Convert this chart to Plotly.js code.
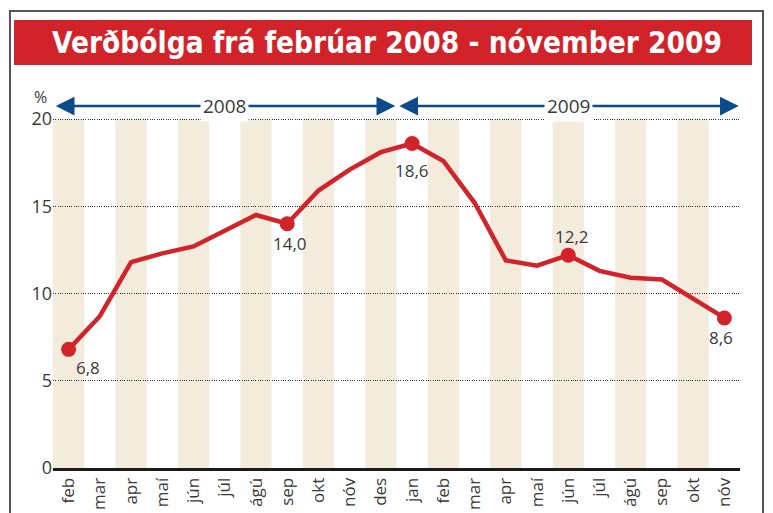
<!DOCTYPE html>
<html><head><meta charset="utf-8">
<script src="https://cdn.plot.ly/plotly-3.0.1.min.js"></script>
<style>html,body{margin:0;padding:0;background:#fff}</style>
</head><body><div id="chart" style="width:773px;height:513px"></div>
<script>
// ---- data ----
const months = ['feb','mar','apr','maí','jún','júl','ágú','sep','okt','nóv','des',
                'jan','feb','mar','apr','maí','jún','júl','ágú','sep','okt','nóv'];
const years = [2008,2008,2008,2008,2008,2008,2008,2008,2008,2008,2008,
               2009,2009,2009,2009,2009,2009,2009,2009,2009,2009,2009];
const inflation = [6.8,8.7,11.8,12.3,12.7,13.6,14.5,14.0,15.9,17.1,18.1,
                   18.6,17.6,15.2,11.9,11.6,12.2,11.3,10.9,10.8,9.7,8.6];
const highlighted = [0,7,11,16,21];
const yTicks = [0,5,10,15,20];
const titleText = 'Verðbólga frá febrúar 2008 - nóvember 2009';

// ---- layout helpers ----
const W = 773, H = 513;
const M = {l:53, r:33, t:118, b:45};
const pw = W - M.l - M.r, ph = H - M.t - M.b;
const px2x = p => (p - M.l) / pw;
const py2y = p => (H - M.b - p) / ph;

const xIdx = months.map((_, i) => i);
const FONT = 'Open Sans, Noto Sans, sans-serif';
const TXT = '#3a3a3a';
const RED = '#d2232a';
const BLUE = '#0b4a8b';
const yMax = yTicks[yTicks.length - 1];

const shapes = [];
// outer frame
shapes.push({type:'rect', xref:'paper', yref:'paper', x0:px2x(10), x1:px2x(763), y0:py2y(530), y1:py2y(11),
  line:{color:'#555', width:2}, fillcolor:'rgba(0,0,0,0)', layer:'below'});
// title banner
shapes.push({type:'rect', xref:'paper', yref:'paper', x0:px2x(14), x1:px2x(752), y0:py2y(65), y1:py2y(20),
  line:{width:0}, fillcolor:RED, layer:'above'});
// alternating stripes
xIdx.forEach(i => {
  if (i % 2 === 0) shapes.push({type:'rect', xref:'x', yref:'y', x0:i-0.5, x1:i+0.5,
    y0:yTicks[0], y1:yMax, line:{width:0}, fillcolor:'#f3ecdd', layer:'below'});
});

const annotations = [];
// year arrows
const yearList = [...new Set(years)];
const arrowY = py2y(106);
yearList.forEach(yr => {
  const first = years.indexOf(yr), last = years.lastIndexOf(yr);
  const a = first - 0.5 + 0.04, b = last + 0.5 - 0.04;
  annotations.push({x:b, y:arrowY, xref:'x', yref:'paper', ax:a, ay:0, axref:'x', ayref:'pixel',
    text:'', showarrow:true, arrowside:'end+start', arrowhead:2, arrowsize:1.5, arrowwidth:2.5,
    arrowcolor:BLUE, standoff:0, startstandoff:0});
});
yearList.forEach(yr => {
  const first = years.indexOf(yr), last = years.lastIndexOf(yr);
  annotations.push({x:(first + last) / 2, y:arrowY, xref:'x', yref:'paper', text:String(yr),
    showarrow:false, bgcolor:'#fff', borderpad:2, xanchor:'center', yanchor:'middle',
    font:{family:FONT, size:19, color:TXT}});
});
// % label
annotations.push({x:px2x(40), y:py2y(97), xref:'paper', yref:'paper', text:'%', showarrow:false,
  xanchor:'center', yanchor:'middle', font:{family:FONT, size:16, color:TXT}});
// value labels
const labelShift = {0:[19,-18], 7:[3,-20], 11:[0,-27], 16:[4,19], 21:[-3,-20]};
highlighted.forEach(i => {
  annotations.push({x:i, y:inflation[i], xref:'x', yref:'y',
    text:inflation[i].toFixed(1).replace('.', ','), showarrow:false,
    xshift:labelShift[i][0], yshift:labelShift[i][1], xanchor:'center', yanchor:'middle',
    font:{family:FONT, size:17, color:TXT}});
});

const traces = [
  {x:xIdx, y:inflation, type:'scatter', mode:'lines', line:{color:RED, width:4.5}, hoverinfo:'skip'},
  {x:highlighted, y:highlighted.map(i => inflation[i]), type:'scatter', mode:'markers',
   marker:{color:RED, size:15}, hoverinfo:'skip'}
];

const layout = {
  width:W, height:H, margin:M, showlegend:false,
  paper_bgcolor:'#fff', plot_bgcolor:'rgba(0,0,0,0)',
  title:{text:titleText, x:387 / W, xref:'container', xanchor:'center', y:1 - 43/H, yref:'container', yanchor:'middle',
    font:{family:'DejaVu Sans Condensed, sans-serif', size:29.5, color:'#fff', weight:700}},
  xaxis:{range:[-0.5, xIdx.length - 0.5], tickvals:xIdx, ticktext:months, tickangle:-90,
    showgrid:false, zeroline:false, showline:true, linecolor:'#1a1a1a', linewidth:3,
    ticks:'', tickfont:{family:FONT, size:17, color:TXT}, fixedrange:true},
  yaxis:{range:[0, yMax * 1.003], tickvals:yTicks, ticktext:yTicks.map(String), showgrid:true,
    gridcolor:'#333', griddash:'1px,1.3px', gridwidth:1, zeroline:false, showline:false, ticks:'',
    tickfont:{family:FONT, size:18, color:TXT}, fixedrange:true},
  shapes, annotations
};

Plotly.newPlot('chart', traces, layout, {displayModeBar:false, staticPlot:true});
</script></body></html>
